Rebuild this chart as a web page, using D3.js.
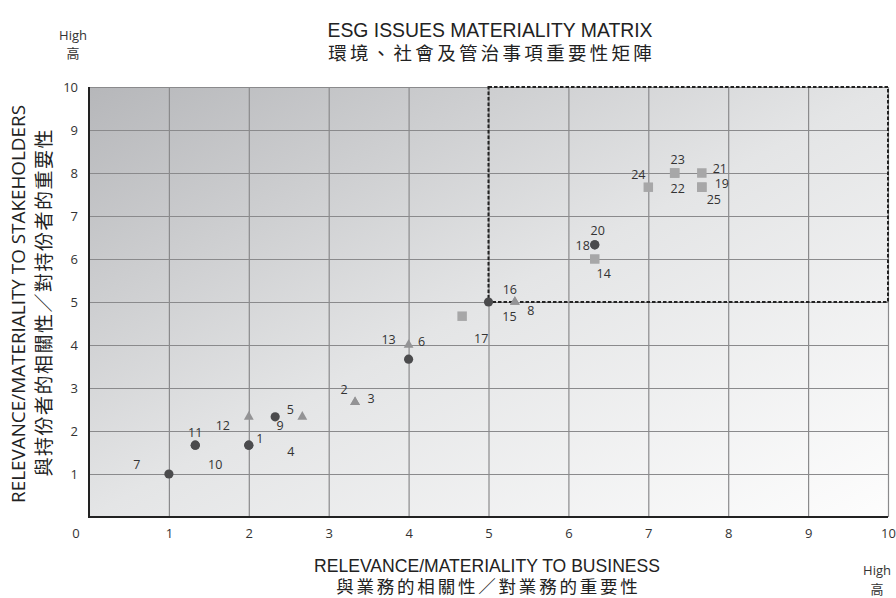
<!DOCTYPE html>
<html>
<head>
<meta charset="utf-8">
<script src="https://cdn.jsdelivr.net/npm/d3@7"></script>
<style>
  body { margin: 0; background: #fff; }
  svg { display: block; font-family: "Open Sans", "Noto Sans", sans-serif; }
  .cjk { font-family: "Noto Sans CJK TC", "Noto Sans CJK SC", sans-serif; }
  .tight { font-family: "Liberation Sans", "Noto Sans CJK TC", sans-serif; }
</style>
</head>
<body>
<svg id="chart" width="896" height="598"></svg>
<script>
// issues: number, relevance to business (x), relevance to stakeholders (y), group
const issueIds = [1, 2, 3, 4, 5, 6, 7, 8, 9, 10, 11, 12, 13, 14, 15, 16, 17, 18, 19, 20, 21, 22, 23, 24, 25]
const business = [2, 3.33, 3.33, 2, 2.67, 4, 1, 5.33, 2.33, 1.33, 1.33, 2, 4, 6.33, 5, 5.33, 4.67, 6.33, 7.67, 6.33, 7.67, 7.33, 7.33, 7, 7.67]
const stakeholders = [1.67, 2.67, 2.67, 1.67, 2.33, 3.67, 1, 5, 2.33, 1.67, 1.67, 2.33, 4, 6, 5, 5, 4.67, 6.33, 7.67, 6.33, 8, 8, 8, 7.67, 7.67]
const groups = ["A", "B", "B", "A", "B", "A", "A", "B", "A", "A", "A", "B", "B", "C", "A", "B", "C", "A", "C", "A", "C", "C", "C", "C", "C"]
const groupNames = ["A", "B", "C"]

// label placement (pixel offset from the marker)
const labelDx = [11, -11, 16, 42, -12, 13, -32, 16, 5, 20, 0, -26, -20, 9, 21, -5, 19, -12, 20, 3, 18, 3, 3, -10, 12]
const labelDy = [-7, -13, -4, 6, -7, -18, -10, 8, 9, 19, -13, 9, -6, 14, 14, -13, 22, 1, -4, -14, -5, 15, -14, -13, 12]

const xTickValues = [1, 2, 3, 4, 5, 6, 7, 8, 9, 10]
const yTickValues = [1, 2, 3, 4, 5, 6, 7, 8, 9, 10]
const originLabel = "0"
const focusBox = [5, 10, 5, 10] // x0, x1, y0, y1 of the highlighted area

const titleEn = "ESG ISSUES MATERIALITY MATRIX"
const titleZh = "環境、社會及管治事項重要性矩陣"
const xTitleEn = "RELEVANCE/MATERIALITY TO BUSINESS"
const xTitleZh = "與業務的相關性／對業務的重要性"
const yTitleEn = "RELEVANCE/MATERIALITY TO STAKEHOLDERS"
const yTitleZh = "與持份者的相關性／對持份者的重要性"
const highEn = "High"
const highZh = "高"

const data = issueIds.map((id, i) => ({
  id, x: business[i], y: stakeholders[i], group: groups[i], dx: labelDx[i], dy: labelDy[i]
}))

const svg = d3.select("#chart")
const margin = { top: 87, right: 8, bottom: 81, left: 89 }
const width = 896 - margin.left - margin.right
const height = 598 - margin.top - margin.bottom

const x = d3.scaleLinear().domain([0, 10]).range([margin.left, margin.left + width])
const y = d3.scaleLinear().domain([0, 10]).range([margin.top + height, margin.top])

const shape = d3.scaleOrdinal().domain(groupNames).range([d3.symbolCircle, d3.symbolTriangle, d3.symbolSquare])
const symSize = d3.scaleOrdinal().domain(groupNames).range([66, 42, 90])
const fill = d3.scaleOrdinal().domain(groupNames).range(["#4b4b4d", "#939395", "#a7a7a8"])

// background gradient
const defs = svg.append("defs")
const grad = defs.append("linearGradient").attr("id", "bg").attr("x1", 0).attr("y1", 0).attr("x2", 1).attr("y2", 1)
grad.append("stop").attr("offset", "0%").attr("stop-color", "#b6b7ba")
grad.append("stop").attr("offset", "50%").attr("stop-color", "#e4e5e6")
grad.append("stop").attr("offset", "100%").attr("stop-color", "#fdfdfd")

svg.append("rect")
  .attr("x", x(0)).attr("y", y(10))
  .attr("width", x(10) - x(0)).attr("height", y(0) - y(10))
  .attr("fill", "url(#bg)")

// grid
const gx = svg.append("g")
  .attr("transform", `translate(0,${y(0)})`)
  .call(d3.axisBottom(x).tickValues(xTickValues).tickSize(-height).tickFormat(""))
gx.select(".domain").remove()
gx.selectAll("line").attr("stroke", "#8a8a8c").attr("stroke-width", 1.2)

const gy = svg.append("g")
  .attr("transform", `translate(${x(0)},0)`)
  .call(d3.axisLeft(y).tickValues(yTickValues).tickSize(-width).tickFormat(""))
gy.select(".domain").remove()
gy.selectAll("line").attr("stroke", "#8a8a8c").attr("stroke-width", 1.2)

// tick labels
const xl = svg.append("g")
  .attr("transform", `translate(0,${y(0)})`)
  .call(d3.axisBottom(x).tickValues(xTickValues).tickSize(0).tickPadding(12))
xl.select(".domain").remove()
xl.selectAll("text").attr("font-size", 13).attr("fill", "#333").attr("font-family", "Open Sans")

const yl = svg.append("g")
  .attr("transform", `translate(${x(0)},0)`)
  .call(d3.axisLeft(y).tickValues(yTickValues).tickSize(0).tickPadding(11))
yl.select(".domain").remove()
yl.selectAll("text").attr("font-size", 13).attr("fill", "#333").attr("font-family", "Open Sans")

svg.append("text")
  .attr("x", x(0) - 13).attr("y", y(0) + 21)
  .attr("text-anchor", "middle").attr("font-size", 13).attr("fill", "#333")
  .text(originLabel)

// axis lines
svg.append("line")
  .attr("x1", x(0)).attr("x2", x(0)).attr("y1", y(10)).attr("y2", y(0) + 1)
  .attr("stroke", "#222").attr("stroke-width", 2)
svg.append("line")
  .attr("x1", x(0) - 1).attr("x2", x(10)).attr("y1", y(0)).attr("y2", y(0))
  .attr("stroke", "#222").attr("stroke-width", 2)

// highlighted area
svg.append("rect")
  .attr("x", x(focusBox[0])).attr("y", y(focusBox[3]))
  .attr("width", x(focusBox[1]) - x(focusBox[0]))
  .attr("height", y(focusBox[2]) - y(focusBox[3]))
  .attr("fill", "none").attr("stroke", "#222").attr("stroke-width", 2)
  .attr("stroke-dasharray", "3.5,2")

// markers
svg.append("g").selectAll("path")
  .data(data)
  .join("path")
  .attr("transform", (d) => `translate(${x(d.x)},${y(d.y)})`)
  .attr("d", (d) => d3.symbol().type(shape(d.group)).size(symSize(d.group))())
  .attr("fill", (d) => fill(d.group))

// issue numbers
svg.append("g").selectAll("text")
  .data(data)
  .join("text")
  .attr("x", (d) => x(d.x) + d.dx)
  .attr("y", (d) => y(d.y) + d.dy)
  .attr("text-anchor", "middle")
  .attr("dominant-baseline", "central")
  .attr("font-size", 12.5)
  .attr("fill", "#333")
  .text((d) => d.id)

// two-line bilingual titles
function twoLine(cx, y1, y2, en, zh, enSize, zhSize, enLen, zhSpacing) {
  svg.append("text").attr("class", "tight")
    .attr("text-anchor", "middle").attr("fill", "#222")
    .attr("x", cx).attr("y", y1)
    .attr("font-size", enSize)
    .attr("textLength", enLen).attr("lengthAdjust", "spacingAndGlyphs")
    .text(en)
  svg.append("text").attr("class", "tight")
    .attr("text-anchor", "middle").attr("fill", "#222")
    .attr("x", cx + zhSpacing / 2).attr("y", y2)
    .attr("font-size", zhSize)
    .attr("letter-spacing", zhSpacing)
    .text(zh)
}

twoLine(490, 37, 60, titleEn, titleZh, 20, 18.5, 325, 3.3)
twoLine(487, 572, 593, xTitleEn, xTitleZh, 18.5, 17.5, 346, 2.8)

svg.append("text")
  .attr("transform", `translate(25,304) rotate(-90)`)
  .attr("text-anchor", "middle")
  .attr("font-size", 18).attr("fill", "#222")
  .attr("textLength", 398).attr("lengthAdjust", "spacingAndGlyphs")
  .text(yTitleEn)
svg.append("text").attr("class", "cjk")
  .attr("transform", `translate(51,303) rotate(-90)`)
  .attr("text-anchor", "middle")
  .attr("font-size", 19).attr("fill", "#222")
  .attr("textLength", 347)
  .text(yTitleZh)

// "High" corner markers
const highs = [[73, 40, 58], [877, 575, 594]]
highs.forEach(([hx, y1, y2]) => {
  svg.append("text").attr("x", hx).attr("y", y1).attr("text-anchor", "middle")
    .attr("font-size", 13).attr("fill", "#333").text(highEn)
  svg.append("text").attr("class", "tight").attr("x", hx).attr("y", y2).attr("text-anchor", "middle")
    .attr("font-size", 13).attr("fill", "#333").text(highZh)
})
</script>
</body>
</html>
